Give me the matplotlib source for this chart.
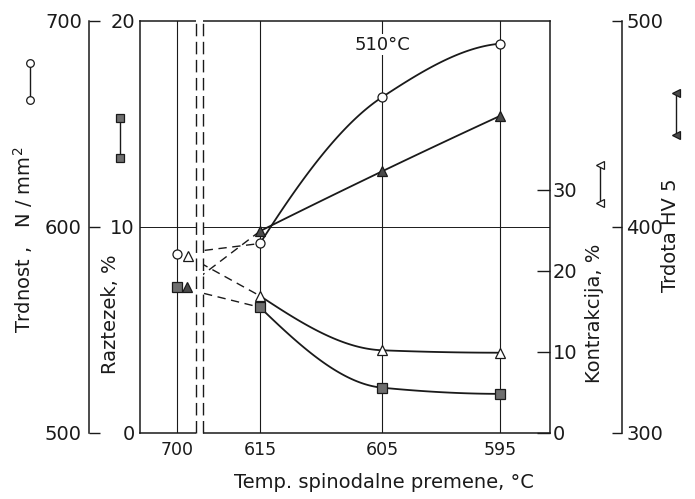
import numpy as np
import matplotlib
matplotlib.use('Agg')
import matplotlib.pyplot as plt
from matplotlib.lines import Line2D
from matplotlib.patches import Rectangle

plt.rcParams['font.family'] = ['DejaVu Sans']

# categories (x positions along the broken temperature axis)
temps = ['700', '615', '605', '595']
xpos = [-0.68, 0.0, 1.0, 1.97]

# series values
trdnost = [587, 592, 663, 689]        # N/mm2, open circles
raztezek = [7.1, 6.1, 2.2, 1.9]       # %, grey squares
kontrakcija = [21.8, 16.9, 10.2, 9.9]  # %, open triangles
trdota = [371, 398, 427, 454]         # HV 5, filled triangles

x_min, x_max = -0.984, 2.377
brk_l, brk_r = -0.525, -0.467


def smooth(x, y, n=60):
    # monotone cubic drawing through the measured points
    x = np.asarray(x, float)
    y = np.asarray(y, float)
    h = np.diff(x)
    d = np.diff(y) / h
    m = np.zeros_like(y)
    for k in range(1, len(y) - 1):
        if d[k - 1] * d[k] > 0:
            w1 = 2 * h[k] + h[k - 1]
            w2 = h[k] + 2 * h[k - 1]
            m[k] = (w1 + w2) / (w1 / d[k - 1] + w2 / d[k])
    m0 = ((2 * h[0] + h[1]) * d[0] - h[0] * d[1]) / (h[0] + h[1])
    mn = ((2 * h[-1] + h[-2]) * d[-1] - h[-1] * d[-2]) / (h[-1] + h[-2])
    m[0] = m0 if m0 * d[0] > 0 else 0
    m[-1] = mn if mn * d[-1] > 0 else 0
    xs, ys = [], []
    t = np.linspace(0, 1, n)
    for k in range(len(h)):
        h00 = 2 * t**3 - 3 * t**2 + 1
        h10 = t**3 - 2 * t**2 + t
        h01 = -2 * t**3 + 3 * t**2
        h11 = t**3 - t**2
        xs.append(x[k] + t * h[k])
        ys.append(h00 * y[k] + h10 * h[k] * m[k] + h01 * y[k + 1] + h11 * h[k] * m[k + 1])
    return np.concatenate(xs), np.concatenate(ys)


px = 72 / 100  # points per pixel at dpi 100

fig = plt.figure(figsize=(6.95, 4.99), dpi=100)
ax = fig.add_axes([140 / 695, 1 - 433 / 499, 410 / 695, 412 / 499])
axk = ax.twinx()
axs = ax.twinx()
axh = ax.twinx()

lc = '#1a1a1a'
lw = 1.1

# main box (Raztezek left, Kontrakcija right)
ax.set_xlim(x_min, x_max)
ax.set_ylim(0, 20)
ax.set_yticks([0, 10, 20])
ax.set_xticks(xpos)
ax.set_xticklabels(temps)
ax.tick_params(axis='y', length=0, pad=5 * px, labelsize=14, colors=lc)
ax.tick_params(axis='x', length=0, pad=8 * px, labelsize=12.5, colors=lc)
for s in ['top', 'bottom', 'right']:
    ax.spines[s].set_visible(False)
ax.spines['left'].set_linewidth(lw)
ax.spines['left'].set_color(lc)
tr = ax.get_xaxis_transform()
for y in [0, 1]:
    ax.plot([x_min, brk_l], [y, y], color=lc, lw=lw, transform=tr, clip_on=False)
    ax.plot([brk_r, x_max], [y, y], color=lc, lw=lw, transform=tr, clip_on=False)
for xp in xpos:
    ax.axvline(xp, color=lc, lw=0.8)
ax.axhline(10, color=lc, lw=0.7)
ax.text(xpos[2], 18.85, '510°C', ha='center', va='center', fontsize=13, color=lc,
        bbox=dict(facecolor='white', edgecolor='none', pad=1))

axk.set_ylim(0, 50.8)
axk.set_yticks([0, 10, 20, 30])
axk.tick_params(axis='y', direction='in', length=13 * px, width=1, pad=3 * px,
                labelsize=14, colors=lc)
for s in ['top', 'bottom', 'left']:
    axk.spines[s].set_visible(False)
axk.spines['right'].set_linewidth(lw)
axk.spines['right'].set_color(lc)

# Trdnost axis (outer left)
axs.set_ylim(500, 700)
axs.set_yticks([500, 600, 700])
axs.yaxis.tick_left()
axs.spines['left'].set_position(('outward', 51 * px))
for s in ['top', 'bottom', 'right']:
    axs.spines[s].set_visible(False)
axs.spines['left'].set_visible(True)
axs.spines['left'].set_linewidth(lw)
axs.spines['left'].set_color(lc)
axs.tick_params(axis='y', direction='in', length=11 * px, width=1, pad=7 * px,
                labelsize=14, colors=lc)

# Trdota axis (outer right)
axh.set_ylim(300, 500)
axh.set_yticks([300, 400, 500])
axh.spines['right'].set_position(('outward', 72 * px))
for s in ['top', 'bottom', 'left']:
    axh.spines[s].set_visible(False)
axh.spines['right'].set_linewidth(lw)
axh.spines['right'].set_color(lc)
axh.tick_params(axis='y', direction='in', length=10 * px, width=1, pad=4 * px,
                labelsize=14, colors=lc)

series = [
    (axs, trdnost, dict(marker='o', mfc='white', mec=lc), 0.0),
    (ax, raztezek, dict(marker='s', mfc='#6e6e6e', mec=lc), 0.0),
    (axk, kontrakcija, dict(marker='^', mfc='white', mec=lc), 0.09),
    (axh, trdota, dict(marker='^', mfc='#4a4a4a', mec=lc), 0.08),
]
for a, vals, mk, dx in series:
    xs, ys = smooth(xpos[1:], vals[1:])
    a.plot(xs, ys, color=lc, lw=1.3, zorder=3)
    dash, = a.plot([xpos[0] + dx, xpos[1]], vals[:2], color=lc, lw=1.0,
                   dashes=(6, 4), zorder=3)
    lo, hi = a.get_ylim()
    clip = Rectangle((brk_r, lo), x_max - brk_r, hi - lo, transform=a.transData)
    dash.set_clip_path(clip)
    a.plot([xpos[0] + dx], [vals[0]], ls='none', ms=6.5, mew=0.9, zorder=4, **mk)
    a.plot(xpos[1:], vals[1:], ls='none', ms=6.5, mew=0.9, zorder=4, **mk)

# axis break
tb = axh.get_xaxis_transform()
axh.add_patch(Rectangle((brk_l, -0.01), brk_r - brk_l, 1.02, transform=tb,
                        facecolor='white', edgecolor='none', zorder=8, clip_on=False))
for xb in [brk_l, brk_r]:
    axh.plot([xb, xb], [0, 1], color=lc, lw=1.0, dashes=(9, 4), transform=tb,
             zorder=9, clip_on=False)

# axis titles
fig.text(23 / 695, 1 - 240 / 499, 'Trdnost ,   N / mm$^2$', rotation=90, ha='center',
         va='center', fontsize=14, color=lc)
fig.text(111 / 695, 1 - 314 / 499, 'Raztezek, %', rotation=90, ha='center',
         va='center', fontsize=14, color=lc)
fig.text(594 / 695, 1 - 313 / 499, 'Kontrakcija, %', rotation=90, ha='center',
         va='center', fontsize=14, color=lc)
fig.text(670 / 695, 1 - 235 / 499, 'Trdota HV 5', rotation=90, ha='center',
         va='center', fontsize=14, color=lc)
fig.text(384 / 695, 1 - 483 / 499, 'Temp. spinodalne premene, °C', ha='center',
         va='center', fontsize=14, color=lc)

# small marker keys next to each axis title
keys = [
    (30, 63, 100, dict(marker='o', mfc='white', mec=lc)),
    (120, 118, 158, dict(marker='s', mfc='#6e6e6e', mec=lc)),
    (600, 165, 203, dict(marker='<', mfc='white', mec=lc)),
    (676, 93, 135, dict(marker='<', mfc='#4a4a4a', mec=lc)),
]
for kx, ky1, ky2, mk in keys:
    fig.add_artist(Line2D([kx / 695, kx / 695], [1 - ky1 / 499, 1 - ky2 / 499],
                          color=lc, lw=1.0, ms=5.5, mew=0.9, **mk))

fig.savefig('out.png', dpi=100)
